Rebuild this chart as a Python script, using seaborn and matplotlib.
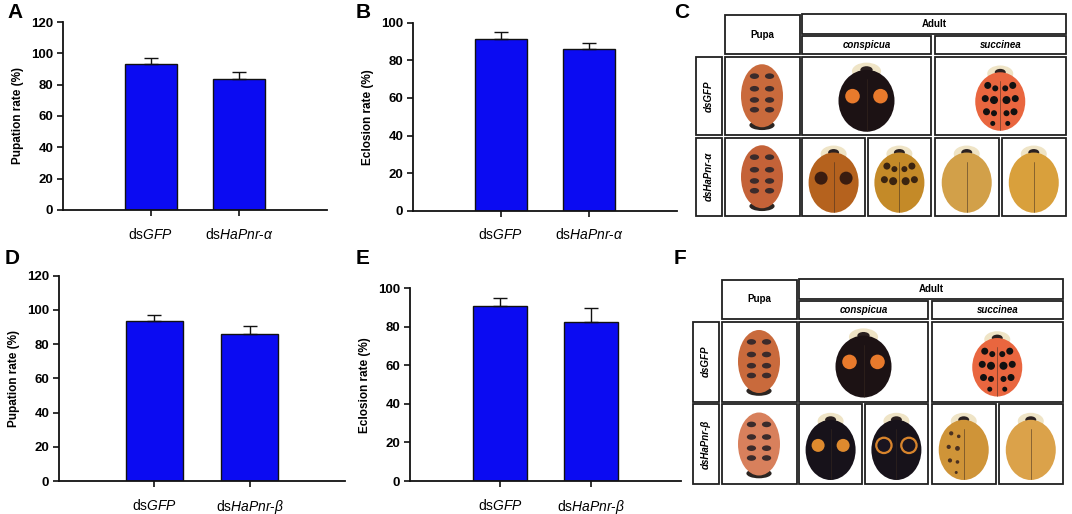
import numpy as np
import pandas as pd
import matplotlib
matplotlib.use("Agg")
import matplotlib.pyplot as plt
import seaborn as sns
from matplotlib.patches import Rectangle, Ellipse, Circle

# data
groups_alpha = ["ds$\\mathit{GFP}$", "ds$\\mathit{HaPnr}$\u2010$\\mathit{\u03b1}$"]
groups_beta = ["ds$\\mathit{GFP}$", "ds$\\mathit{HaPnr}$\u2010$\\mathit{\u03b2}$"]

pupation_alpha = [93.5, 83.4]
pupation_alpha_err = [3.6, 5.0]
eclosion_alpha = [91.2, 85.8]
eclosion_alpha_err = [4.0, 3.6]

pupation_beta = [93.5, 85.7]
pupation_beta_err = [3.5, 4.9]
eclosion_beta = [90.8, 82.7]
eclosion_beta_err = [4.3, 7.2]

row_labels_c = ["dsGFP", "dsHaPnr-\u03b1"]
row_labels_f = ["dsGFP", "dsHaPnr-\u03b2"]
stage_header = "Pupa"
adult_header = "Adult"
morph_headers = ["conspicua", "succinea"]

BAR_BLUE = "#0b0bf2"
INK = "#111111"

sns.set_theme(style="ticks")
plt.rcParams["font.family"] = ["Liberation Sans", "DejaVu Sans"]
plt.rcParams["mathtext.fontset"] = "custom"
plt.rcParams["mathtext.rm"] = "Liberation Sans"
plt.rcParams["mathtext.it"] = "Liberation Sans:italic"
plt.rcParams["mathtext.bf"] = "Liberation Sans:bold"
for key in ["text.color", "axes.labelcolor", "xtick.color", "ytick.color",
            "xtick.labelcolor", "ytick.labelcolor"]:
    plt.rcParams[key] = "black"

W, H = 1072, 514
fig = plt.figure(figsize=(W / 100, H / 100), dpi=100)

# overlay in pixel coords for the photo tables
canvas = fig.add_axes([0, 0, 1, 1])
canvas.set_xlim(0, W)
canvas.set_ylim(H, 0)
canvas.axis("off")
canvas.patch.set_visible(False)


def px_axes(x0, y0, x1, y1):
    return fig.add_axes([x0 / W, 1 - y1 / H, (x1 - x0) / W, (y1 - y0) / H])


def bar_panel(rect, labels, values, errors, ylabel, ymax, letter, letter_xy):
    ax = px_axes(*rect)
    df = pd.DataFrame({"group": labels, "value": values})
    sns.barplot(data=df, x="group", y="value", ax=ax, color=BAR_BLUE,
                saturation=1, width=0.6, edgecolor=INK, linewidth=1.0,
                errorbar=None)
    ax.errorbar(range(len(values)), values,
                yerr=[np.zeros(len(errors)), errors], fmt="none",
                ecolor=INK, elinewidth=1.0, capsize=5, capthick=1.0)
    ax.set_xlim(-1, 2)
    ax.set_ylim(0, ymax)
    ax.set_yticks(np.arange(0, ymax + 1, 20))
    ax.set_xlabel("")
    ax.set_ylabel(ylabel, fontsize=8.5, fontweight="bold", labelpad=5)
    sns.despine(ax=ax)
    for s in ["left", "bottom"]:
        ax.spines[s].set_linewidth(1.3)
        ax.spines[s].set_color(INK)
    ax.tick_params(axis="y", labelsize=9.5, length=4, width=1.2, color=INK, pad=3)
    ax.tick_params(axis="x", labelsize=10, length=4, width=1.2, color=INK, pad=8)
    for t in ax.get_yticklabels():
        t.set_fontweight("bold")
    fig.text(letter_xy[0] / W, 1 - letter_xy[1] / H, letter, fontsize=15,
             fontweight="bold", va="top", ha="left")
    return ax


def box(x0, y0, x1, y1):
    canvas.add_patch(Rectangle((x0, y0), x1 - x0, y1 - y0, fill=False,
                               edgecolor="#202020", linewidth=1.3))


def beetle(cx, cy, w, h, body, spots=(), spot_color="black", ring=None):
    by = cy + 0.07 * h
    canvas.add_patch(Ellipse((cx, cy - 0.34 * h), 0.52 * w, 0.24 * h,
                             facecolor="#efe4c6", edgecolor="none"))
    canvas.add_patch(Ellipse((cx, cy - 0.36 * h), 0.22 * w, 0.1 * h,
                             facecolor="#2a2020", edgecolor="none"))
    canvas.add_patch(Ellipse((cx, by), w, 0.86 * h, facecolor=body,
                             edgecolor="none"))
    for fx, fy, fr in spots:
        px, py = cx + fx * w / 2, by + fy * 0.43 * h
        if ring is not None:
            canvas.add_patch(Circle((px, py), fr * w * 1.35, facecolor=ring,
                                    edgecolor="none"))
        canvas.add_patch(Circle((px, py), fr * w, facecolor=spot_color,
                                edgecolor="none"))
    canvas.plot([cx, cx], [by - 0.3 * h, by + 0.42 * h], color="#3a2a20",
                lw=0.6, alpha=0.6)


def pupa(cx, cy, w, h, body):
    canvas.add_patch(Ellipse((cx, cy + 0.42 * h), 0.6 * w, 0.14 * h,
                             facecolor="#2b2522", edgecolor="none"))
    canvas.add_patch(Ellipse((cx, cy), w, 0.9 * h, facecolor=body,
                             edgecolor="none"))
    for fy in [-0.28, -0.1, 0.06, 0.2]:
        for fx in [-0.18, 0.18]:
            canvas.add_patch(Ellipse((cx + fx * w, cy + fy * h), 0.22 * w,
                                     0.08 * h, facecolor="#3b2b2b",
                                     edgecolor="none"))


succinea_spots = [(-0.5, -0.55, 0.07), (0.5, -0.55, 0.07), (-0.2, -0.45, 0.06),
                  (0.2, -0.45, 0.06), (-0.6, -0.1, 0.07), (0.6, -0.1, 0.07),
                  (-0.25, -0.05, 0.08), (0.25, -0.05, 0.08), (-0.55, 0.35, 0.07),
                  (0.55, 0.35, 0.07), (-0.25, 0.4, 0.06), (0.25, 0.4, 0.06),
                  (-0.3, 0.75, 0.05), (0.3, 0.75, 0.05)]
conspicua_spots = [(-0.5, -0.15, 0.13), (0.5, -0.15, 0.13)]


def photo_table(x0, y0, row_h, labels, knocked):
    cols = [x0, x0 + 26]
    pupa_x = (x0 + 28.5, x0 + 103.5)
    con_x = (x0 + 106, x0 + 235)
    suc_x = (x0 + 238.5, x0 + 370)
    r1 = (y0 + 43, y0 + 43 + row_h)
    r2 = (r1[1] + 2.5, r1[1] + 2.5 + row_h)
    # headers
    box(pupa_x[0], y0 + 1, pupa_x[1], y0 + 40.5)
    box(con_x[0], y0, suc_x[1], y0 + 20)
    box(con_x[0], y0 + 22.5, con_x[1], y0 + 40.5)
    box(suc_x[0], y0 + 22.5, suc_x[1], y0 + 40.5)
    canvas.text(sum(pupa_x) / 2, y0 + 21, stage_header, ha="center",
                va="center", fontsize=7, fontweight="bold")
    canvas.text((con_x[0] + suc_x[1]) / 2, y0 + 10.5, adult_header,
                ha="center", va="center", fontsize=7, fontweight="bold")
    canvas.text(sum(con_x) / 2, y0 + 31.5, morph_headers[0], ha="center",
                va="center", fontsize=7, fontweight="bold", style="italic")
    canvas.text(sum(suc_x) / 2, y0 + 31.5, morph_headers[1], ha="center",
                va="center", fontsize=7, fontweight="bold", style="italic")
    # row labels
    for (ya, yb), lab in zip([r1, r2], labels):
        box(cols[0], ya, cols[1], yb)
        canvas.text(sum(cols) / 2, (ya + yb) / 2, lab, rotation=90,
                    ha="center", va="center", fontsize=7, fontweight="bold",
                    style="italic")
        box(pupa_x[0], ya, pupa_x[1], yb)
    # row 1 cells
    box(con_x[0], r1[0], con_x[1], r1[1])
    box(suc_x[0], r1[0], suc_x[1], r1[1])
    my1 = (r1[0] + r1[1]) / 2
    my2 = (r2[0] + r2[1]) / 2
    pupa(sum(pupa_x) / 2, my1, 42, 70, "#c96a3c")
    pupa(sum(pupa_x) / 2, my2, 42, 70, knocked["pupa"])
    beetle(sum(con_x) / 2, my1, 56, 72, "#1c1214", conspicua_spots, "#e87a2c")
    beetle(sum(suc_x) / 2, my1 + 1, 50, 68, "#e9663f", succinea_spots, "#111111")
    # row 2 split cells
    con_m = (con_x[0] + con_x[1]) / 2
    suc_m = (suc_x[0] + suc_x[1]) / 2
    splits = [(con_x[0], con_m - 1.3), (con_m + 1.3, con_x[1]),
              (suc_x[0], suc_m - 1.3), (suc_m + 1.3, suc_x[1])]
    for (xa, xb), spec in zip(splits, knocked["adults"]):
        box(xa, r2[0], xb, r2[1])
        body, spots, scol, ring = spec
        beetle((xa + xb) / 2, my2 + 1, 50, 70, body, spots, scol, ring)


bar_panel((63, 22, 327, 210), groups_alpha, pupation_alpha, pupation_alpha_err,
          "Pupation rate (%)", 120, "A", (7, 3))
bar_panel((413, 22.7, 677, 210.7), groups_alpha, eclosion_alpha,
          eclosion_alpha_err, "Eclosion rate (%)", 100, "B", (356, 3))
bar_panel((59, 275.7, 345, 481), groups_beta, pupation_beta, pupation_beta_err,
          "Pupation rate (%)", 120, "D", (5, 249))
bar_panel((410, 288.3, 681, 481), groups_beta, eclosion_beta, eclosion_beta_err,
          "Eclosion rate (%)", 100, "E", (356, 249))

fig.text(674 / W, 1 - 3 / H, "C", fontsize=15, fontweight="bold", va="top")
fig.text(674 / W, 1 - 249 / H, "F", fontsize=15, fontweight="bold", va="top")

faint = [(s[0], s[1], s[2] * 0.6) for s in succinea_spots[::2]]
photo_table(696, 13.5, 78.5, row_labels_c, {
    "pupa": "#c46238",
    "adults": [("#b5621e", conspicua_spots, "#3a1c10", None),
               ("#c48a28", succinea_spots[:8], "#3a2410", None),
               ("#d2a049", [], "black", None),
               ("#d9a03c", [], "black", None)],
})
photo_table(693, 278.5, 80, row_labels_f, {
    "pupa": "#d8805c",
    "adults": [("#17121a", conspicua_spots, "#de8a2e", None),
               ("#17121a", conspicua_spots, "#1a1420", "#d8842c"),
               ("#cf9438", faint, "#4a3020", None),
               ("#dba24a", [], "black", None)],
})

fig.savefig("out.png", dpi=100)
